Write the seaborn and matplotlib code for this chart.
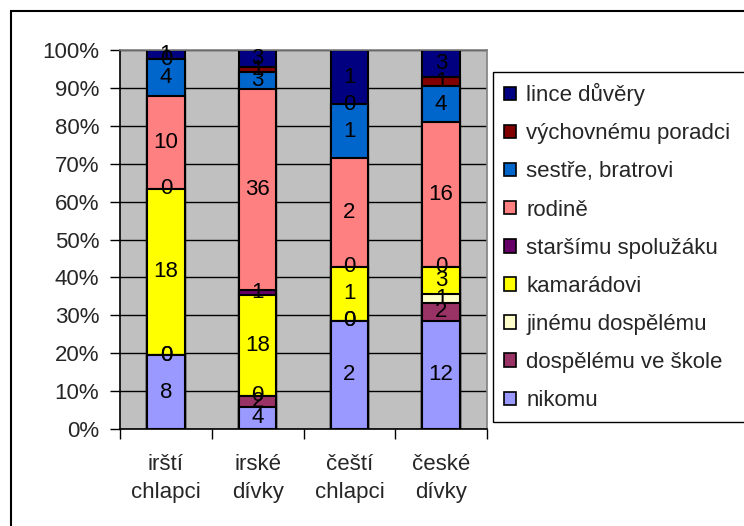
import matplotlib
matplotlib.use('Agg')
import matplotlib.pyplot as plt
from matplotlib.patches import Patch, Rectangle
from matplotlib.ticker import FixedLocator, FuncFormatter
import seaborn as sns
import numpy as np
import pandas as pd

# data (counts)
groups = ["irští\nchlapci", "irské\ndívky", "čeští\nchlapci", "české\ndívky"]
series = ["nikomu", "dospělému ve škole", "jinému dospělému", "kamarádovi",
          "staršímu spolužáku", "rodině", "sestře, bratrovi",
          "výchovnému poradci", "lince důvěry"]
nikomu = [8, 4, 2, 12]
dospelemu_ve_skole = [0, 2, 0, 2]
jinemu_dospelemu = [0, 0, 0, 1]
kamaradovi = [18, 18, 1, 3]
starsimu_spoluzaku = [0, 1, 0, 0]
rodine = [10, 36, 2, 16]
sestre_bratrovi = [4, 3, 1, 4]
vychovnemu_poradci = [0, 1, 0, 1]
lince_duvery = [1, 3, 1, 3]
colors = ["#9999FF", "#993366", "#FFFFCC", "#FFFF00", "#660066",
          "#FF8080", "#0066CC", "#800000", "#000080"]

counts = np.array([nikomu, dospelemu_ve_skole, jinemu_dospelemu, kamaradovi,
                   starsimu_spoluzaku, rodine, sestre_bratrovi,
                   vychovnemu_poradci, lince_duvery], dtype=float)
pct = counts / counts.sum(axis=0) * 100
cum = np.cumsum(pct, axis=0)

sns.set_style('white')
plt.rcParams['font.family'] = ['Liberation Sans', 'DejaVu Sans']
plt.rcParams['font.size'] = 16
FS = 16

fig = plt.figure(figsize=(7.44, 5.26), dpi=100)
ax = fig.add_axes([120/744, 1-429/526, 367/744, 379/526])
ax.set_facecolor('#C0C0C0')

# stacked bars: draw cumulative totals from the top series down
for i in range(len(series) - 1, -1, -1):
    df = pd.DataFrame({'group': groups, 'pct': cum[i]})
    sns.barplot(data=df, x='group', y='pct', order=groups, color=colors[i],
                saturation=1, width=0.41, edgecolor='black', linewidth=1.5,
                errorbar=None, ax=ax)

# value labels
for i in range(len(series)):
    for j in range(len(groups)):
        bottom = cum[i][j] - pct[i][j]
        ax.text(j, bottom + pct[i][j] / 2, str(int(counts[i][j])),
                ha='center', va='center', fontsize=FS, color='black', zorder=5)

ax.set_ylim(0, 100)
ax.set_xlim(-0.5, 3.5)
ax.set_yticks(np.arange(0, 101, 10))
ax.yaxis.set_major_formatter(FuncFormatter(lambda v, p: f"{int(v)}%"))
ax.yaxis.grid(True, color='black', linewidth=1)
ax.set_axisbelow(True)
ax.set_xlabel('')
ax.set_ylabel('')

ax.set_xticks(range(len(groups)), labels=groups, linespacing=1.45, fontsize=FS)
ax.tick_params(axis='x', which='major', length=0, pad=18)
ax.xaxis.set_minor_locator(FixedLocator([-0.5, 0.5, 1.5, 2.5, 3.5]))
ax.tick_params(axis='x', which='minor', length=7, width=1, color='black', direction='out', bottom=True)
ax.tick_params(axis='y', length=7, width=1, color='black', direction='out', pad=8, labelsize=FS, left=True)

for s in ['left', 'bottom']:
    ax.spines[s].set_color('black')
    ax.spines[s].set_linewidth(1.2)
for s in ['top', 'right']:
    ax.spines[s].set_color('#808080')
    ax.spines[s].set_linewidth(1.2)

handles = [Patch(facecolor=colors[i], edgecolor='black', linewidth=1.2, label=series[i])
           for i in range(len(series) - 1, -1, -1)]
leg_top = 1 - 72/526
leg = ax.legend(handles=handles, loc='upper left',
                bbox_to_anchor=(493/744, leg_top - 0.7, 300/744, 0.7),
                bbox_transform=fig.transFigure, mode='expand', frameon=True, fancybox=False,
                edgecolor='black', framealpha=1, borderaxespad=0, fontsize=FS,
                handlelength=0.55, handleheight=0.55, handletextpad=0.45,
                labelspacing=0.77, borderpad=0.5)
leg.get_frame().set_linewidth(1)

# outer chart frame
fig.patches.append(Rectangle((11/744, -0.1), 1.2, 1.1 - 11/526, transform=fig.transFigure,
                             fill=False, edgecolor='black', linewidth=1.5))

fig.savefig('out.png', dpi=100)
